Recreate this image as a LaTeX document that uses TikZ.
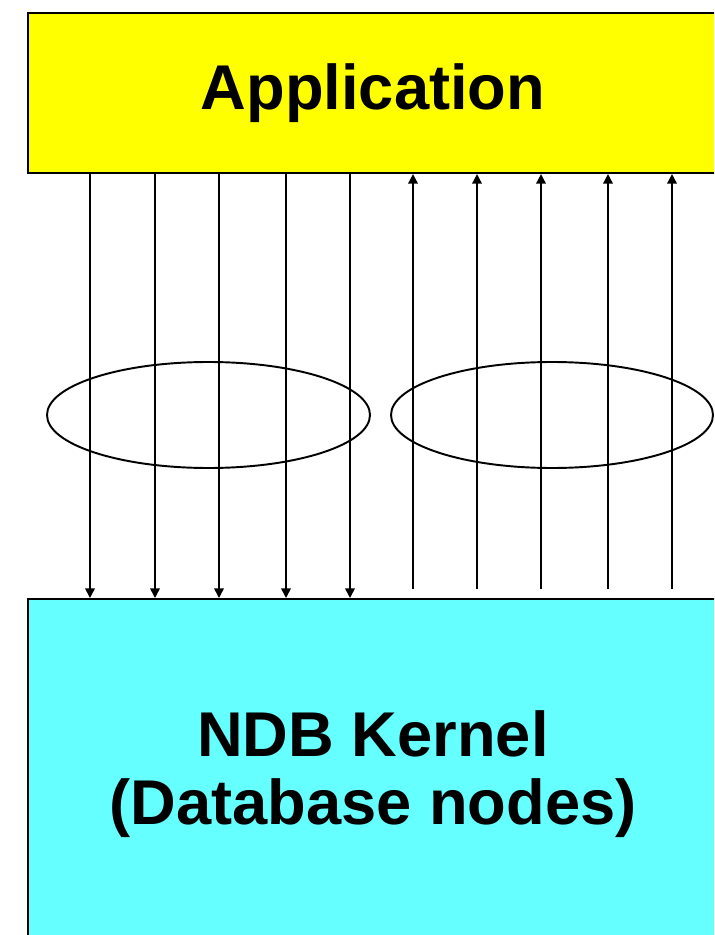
\documentclass[tikz,border=0pt]{standalone}
\usepackage{fontspec}
\setmainfont{Liberation Sans}
\usetikzlibrary{arrows.meta}

\definecolor{appyellow}{RGB}{255,255,0}
\definecolor{kernelcyan}{RGB}{102,255,255}

\begin{document}
\begin{tikzpicture}[x=0.02cm, y=-0.02cm,
    box/.style={draw, line width=1.2pt, anchor=north west, align=center,
      minimum width=13.8cm, font=\fontsize{36}{39}\selectfont\bfseries},
    msg/.style={line width=0.9pt, -{Triangle[length=5.5pt, width=5.5pt]}}]
    \path[use as bounding box, clip] (0, 0) rectangle (714, 935);

    \node[box, fill=appyellow, minimum height=3.2cm] (app) at (27, 12) {Application};
    \node[box, fill=kernelcyan, minimum height=7cm] (kernel) at (27, 598) {NDB Kernel\\(Database nodes)};

    % requests down to the kernel
    \foreach \x in {90, 155, 219, 286, 350}
      \draw[msg] (\x, 0 |- app.south) -- (\x, 0 |- kernel.north);

    % replies back up
    \foreach \x in {413, 477, 541, 608, 672}
      \draw[msg, shorten <=6\pgflinewidth] (\x, 0 |- kernel.north) -- (\x, 0 |- app.south);

    \draw[line width=1.1pt] (208.5, 415) ellipse(161.5 and 53);
    \draw[line width=1.1pt] (552, 415) ellipse(161 and 53);
  \end{tikzpicture}
\end{document}
